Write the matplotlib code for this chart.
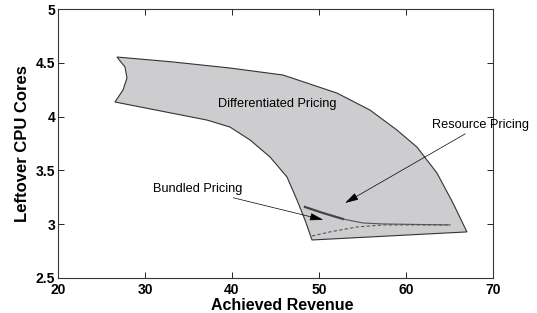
import matplotlib
matplotlib.use("Agg")
import matplotlib.pyplot as plt

plt.rcParams['font.family'] = ['Liberation Sans', 'DejaVu Sans']

# outline of the differentiated pricing region (clockwise from top-left)
region_x = [26.78, 33.0, 39.77, 45.86, 52.07, 55.86, 58.97, 61.26, 63.56,
            65.40, 67.01, 49.20, 48.39, 47.47, 46.32, 44.37, 42.07, 39.77,
            37.13, 26.55, 27.47, 27.93, 27.70]
region_y = [4.554, 4.51, 4.452, 4.387, 4.219, 4.061, 3.875, 3.717, 3.476,
            3.197, 2.928, 2.853, 3.039, 3.225, 3.439, 3.625, 3.783, 3.903,
            3.968, 4.136, 4.247, 4.359, 4.461]

# resource pricing curve
resource_x = [48.39, 50.46, 52.76, 55.06, 57.36, 65.06]
resource_y = [3.160, 3.104, 3.048, 3.011, 3.002, 2.993]

# bundled pricing curve
bundled_x = [49.20, 51.26, 54.37, 57.36, 65.06]
bundled_y = [2.890, 2.928, 2.974, 2.993, 2.993]

fig = plt.figure(figsize=(5.37, 3.13), dpi=100)
ax = fig.add_axes([0.108, 0.112, 0.81, 0.859])

ax.fill(region_x + [region_x[0]], region_y + [region_y[0]],
        facecolor='#cdcdcf', edgecolor='#333333', linewidth=0.8)
ax.plot(resource_x[:3], resource_y[:3], color='#444444', linewidth=1.6)
ax.plot(resource_x[2:], resource_y[2:], color='#555555', linewidth=0.8)
ax.plot(bundled_x, bundled_y, color='#555555', linewidth=0.8, linestyle='--',
        dashes=(3, 2))

ax.text(38.4, 4.117, 'Differentiated Pricing', fontsize=9.2, va='center')

arrow = dict(arrowstyle='-|>,head_length=0.9,head_width=0.25', color='black',
             linewidth=0.5, shrinkA=0, shrinkB=0)
ax.annotate('Resource Pricing', xy=(53.0, 3.197), xytext=(63.0, 3.922),
            fontsize=9.2, va='center', ha='left', arrowprops=arrow)
ax.annotate('Bundled Pricing', xy=(50.5, 3.04), xytext=(30.9, 3.327),
            fontsize=9.2, va='center', ha='left', arrowprops=arrow)

ax.set_xlim(20, 70)
ax.set_ylim(2.5, 5)
ax.set_xticks([20, 30, 40, 50, 60, 70])
ax.set_yticks([2.5, 3, 3.5, 4, 4.5, 5])
ax.set_yticklabels(['2.5', '3', '3.5', '4', '4.5', '5'])
ax.tick_params(direction='in', top=True, right=True, length=4, width=0.6,
               labelsize=10, pad=2)
ax.tick_params(axis='x', pad=4)
for lab in ax.get_xticklabels() + ax.get_yticklabels():
    lab.set_fontweight('bold')
for sp in ax.spines.values():
    sp.set_linewidth(0.8)
    sp.set_color('#333344')

ax.set_xlabel('Achieved Revenue', fontsize=11.5, fontweight='bold', labelpad=0)
ax.xaxis.set_label_coords(0.515, -0.075)
ax.set_ylabel('Leftover CPU Cores', fontsize=12, fontweight='bold', labelpad=4)

fig.savefig('out.png', dpi=100)
